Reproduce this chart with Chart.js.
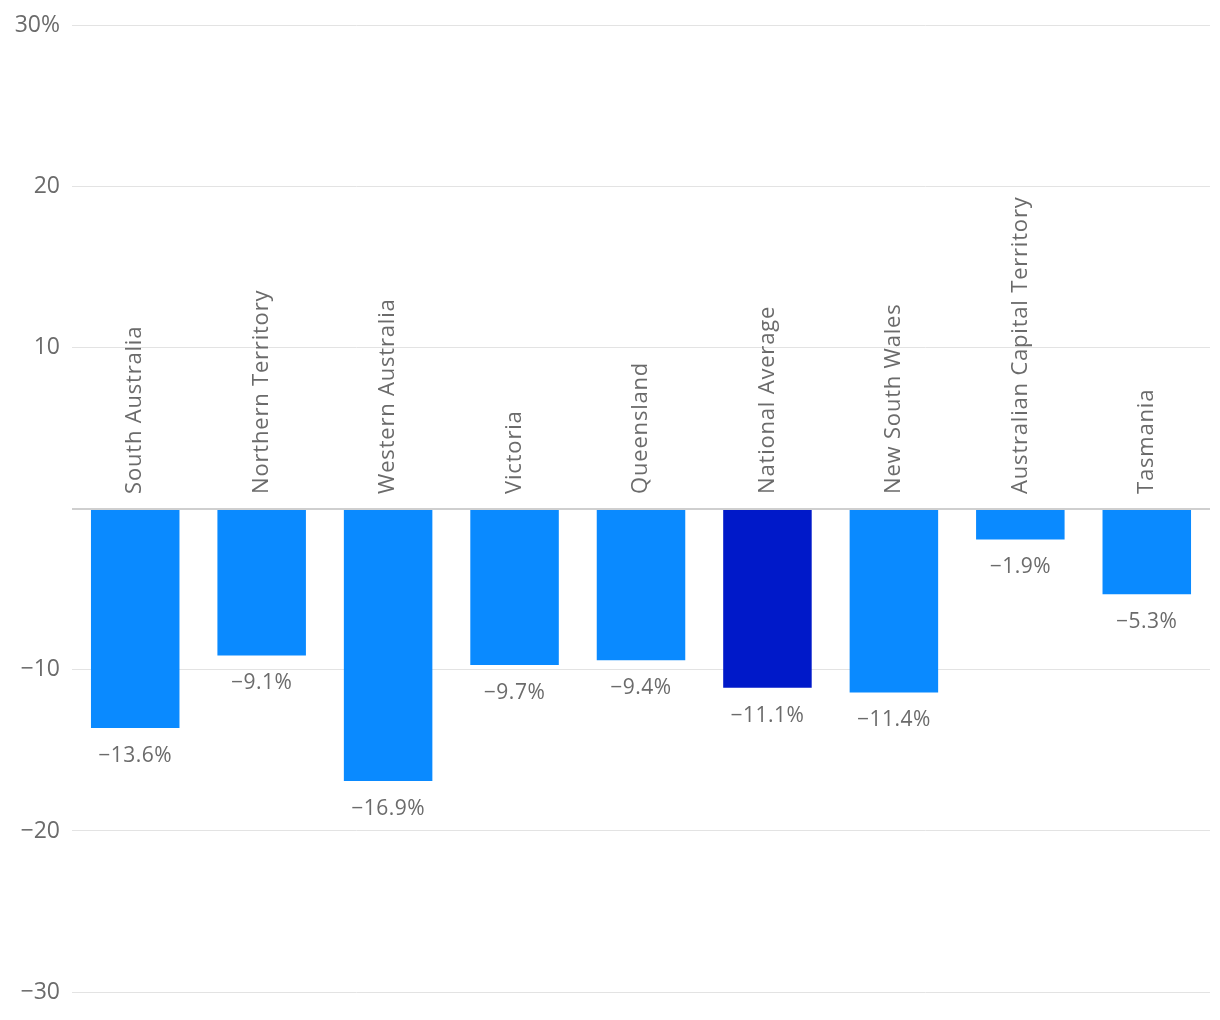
<!DOCTYPE html>
<html>
<head>
<meta charset="utf-8">
<script src="https://cdn.jsdelivr.net/npm/chart.js@4.4.1/dist/chart.umd.min.js"></script>
<style>
  html, body { margin: 0; padding: 0; background: #fff; }
  #wrap { width: 1220px; height: 1020px; position: relative; }
</style>
</head>
<body>
<div id="wrap"><canvas id="chart_1"></canvas></div>
<script>
// data
const regions = ['South Australia', 'Northern Territory', 'Western Australia', 'Victoria', 'Queensland',
                 'National Average', 'New South Wales', 'Australian Capital Territory', 'Tasmania'];
const changePct = [-13.6, -9.1, -16.9, -9.7, -9.4, -11.1, -11.4, -1.9, -5.3];
const yTicks = [-30, -20, -10, 0, 10, 20, 30];

const FONT = '"Open Sans", Lato, sans-serif';
const TEXT = '#6b6b6b';
const BLUE = '#0a8aff';
const DARK = '#0019c9';

function fmt(v){
    // real minus sign like the original
    return (v < 0 ? '\u2212' : '') + Math.abs(v).toFixed(1) + '%';
}

// category names drawn rotated just above the zero line, values under each bar
const barText = {
    id: 'barText',
    afterDatasetsDraw(chart){
        const ctx = chart.ctx;
        const y0 = chart.scales.y.getPixelForValue(0);
        const meta = chart.getDatasetMeta(0);
        ctx.save();
        ctx.fillStyle = TEXT;
        meta.data.forEach((bar, i) => {
            // name
            ctx.save();
            ctx.translate(bar.x, y0 - 15);
            ctx.rotate(-Math.PI / 2);
            ctx.font = '22px ' + FONT;
            ctx.letterSpacing = '0.8px';
            ctx.textAlign = 'left';
            ctx.textBaseline = 'middle';
            ctx.fillText(regions[i], 0, 0);
            ctx.restore();
            // value
            ctx.font = '21px ' + FONT;
            ctx.letterSpacing = '0.5px';
            ctx.textAlign = 'center';
            ctx.textBaseline = 'middle';
            ctx.fillText(fmt(changePct[i]), bar.x, bar.y + 28);
        });
        ctx.restore();
    }
};

const chart = new Chart('chart_1', {
    type: 'bar',
    data: {
        labels: regions,
        datasets: [{
            data: changePct,
            backgroundColor: regions.map(r => r === 'National Average' ? DARK : BLUE),
            borderWidth: 0,
            barPercentage: 0.7,
            categoryPercentage: 1
        }]
    },
    options: {
        responsive: true,
        maintainAspectRatio: false,
        animation: false,
        layout: { padding: { top: 24, bottom: 28, right: 10, left: 0 } },
        plugins: {
            legend: { display: false },
            tooltip: { enabled: false }
        },
        scales: {
            x: { display: false },
            y: {
                min: yTicks[0],
                max: yTicks[yTicks.length - 1],
                afterBuildTicks(axis){
                    axis.ticks = yTicks.map(v => ({ value: v }));
                },
                afterFit(axis){ axis.width = 72; },
                border: { display: false },
                grid: {
                    drawTicks: false,
                    color: ctx => ctx.tick && ctx.tick.value === 0 ? '#cfcfcf' : '#e3e3e3',
                    lineWidth: ctx => ctx.tick && ctx.tick.value === 0 ? 2 : 1
                },
                ticks: {
                    padding: 12,
                    color: TEXT,
                    font: { family: FONT, size: 23 },
                    callback: v => {
                        if(v === 0) return '';
                        if(v === 30) return '30%';
                        return (v < 0 ? '\u2212' : '') + Math.abs(v);
                    }
                }
            }
        }
    },
    plugins: [barText]
});
</script>
</body>
</html>
